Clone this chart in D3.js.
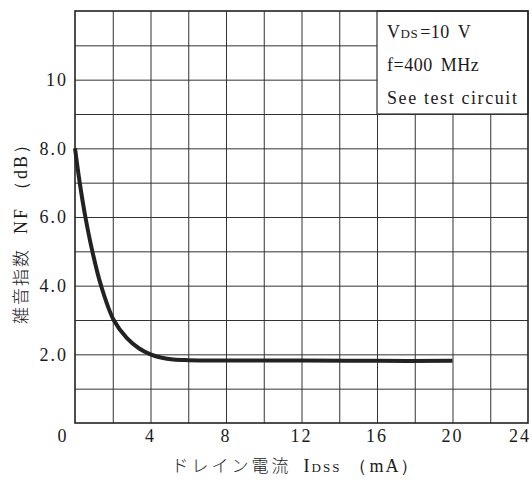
<!DOCTYPE html>
<html>
<head>
<meta charset="utf-8">
<script src="https://cdn.jsdelivr.net/npm/d3@7"></script>
<style>
  body { margin: 0; background: #fff; }
  text { fill: #1a1a1a; }
  .num { font-family: "Liberation Serif", "DejaVu Serif", serif; font-size: 18px; letter-spacing: 2px; }
  .jp { font-family: "Noto Sans CJK JP", sans-serif; font-size: 17px; font-weight: 300; }
</style>
</head>
<body>
<svg id="chart" width="532" height="480"></svg>
<script>
// curve: drain current (mA) vs noise figure (dB)
var idss = [0, 0.25, 0.55, 0.92, 1.38, 2.05, 2.75, 3.4, 4.0, 4.6, 5.2, 6.0, 8, 12, 16, 20];
var nf = [8.0, 7.0, 6.0, 5.0, 4.0, 3.0, 2.47, 2.17, 2.0, 1.9, 1.85, 1.83, 1.82, 1.82, 1.81, 1.81];

var xTicks = [0, 4, 8, 12, 16, 20, 24];
var yTicks = [2, 4, 6, 8, 10];
var yTickLabels = ['2.0', '4.0', '6.0', '8.0', '10'];
var legendLines = ['V', 'f=400 MHz', 'See test circuit'];

var margin = {top: 11, right: 4, bottom: 57, left: 75},
  w = 532 - margin.left - margin.right,
  h = 480 - margin.top - margin.bottom;

var svg = d3.select('#chart');
var g = svg.append('g').attr('transform', 'translate(' + margin.left + ',' + margin.top + ')');

var x = d3.scaleLinear().domain([0, 24]).range([0, w]);
var y = d3.scaleLinear().domain([0, 12]).range([h, 0]);

// grid, every 2 mA and every 1 dB
g.append('g')
  .call(d3.axisBottom(x).tickValues(d3.range(2, 24, 2)).tickSize(-h).tickFormat(''))
  .attr('transform', 'translate(0,' + h + ')')
  .call(function (s) { s.select('.domain').remove(); s.selectAll('line').attr('stroke', '#333').attr('stroke-width', 1); });
g.append('g')
  .call(d3.axisLeft(y).tickValues(d3.range(1, 12, 1)).tickSize(-w).tickFormat(''))
  .call(function (s) { s.select('.domain').remove(); s.selectAll('line').attr('stroke', '#333').attr('stroke-width', 1); });

// legend box covers the grid in the top right
var lx0 = x(16), ly0 = y(12), lx1 = x(24), ly1 = y(9);
g.append('rect').attr('x', lx0).attr('y', ly0).attr('width', lx1 - lx0).attr('height', ly1 - ly0)
  .attr('fill', '#fff').attr('stroke', '#333').attr('stroke-width', 1.2);

// frame
g.append('rect').attr('width', w).attr('height', h)
  .attr('fill', 'none').attr('stroke', '#222').attr('stroke-width', 1.6);

// curve
var line = d3.line().x(function (d, i) { return x(idss[i]); }).y(function (d) { return y(d); })
  .curve(d3.curveCatmullRom.alpha(0.5));
g.append('path').datum(nf).attr('d', line)
  .attr('fill', 'none').attr('stroke', '#222').attr('stroke-width', 4).attr('stroke-linecap', 'butt');

// tick labels
g.selectAll('text.xt').data(xTicks).enter().append('text')
  .attr('class', 'num xt')
  .attr('x', function (d) { return x(d); })
  .attr('dx', function (d) { return d === 0 ? -12 : (d === 24 ? -8 : 0); })
  .attr('y', h + 19)
  .attr('text-anchor', 'middle')
  .text(function (d) { return d; });

g.selectAll('text.yt').data(yTicks).enter().append('text')
  .attr('class', 'num yt')
  .attr('x', -7)
  .attr('y', function (d) { return y(d); })
  .attr('dy', '0.35em')
  .attr('text-anchor', 'end')
  .text(function (d, i) { return yTickLabels[i]; });

// legend text
var lg = g.append('g').attr('transform', 'translate(' + (lx0 + 10) + ',' + ly0 + ')');
var t0 = lg.append('text').attr('class', 'num').attr('y', 27).style('letter-spacing', '0.5px');
t0.append('tspan').text(legendLines[0]);
t0.append('tspan').text('DS').style('font-size', '13px');
t0.append('tspan').attr('dx', 2).text('=10');
t0.append('tspan').attr('dx', 8).text('V');
var t1 = lg.append('text').attr('class', 'num').attr('y', 60).style('letter-spacing', '0.5px');
t1.append('tspan').text('f=400');
t1.append('tspan').attr('dx', 8).text('MHz');
lg.append('text').attr('class', 'num').attr('y', 93).style('letter-spacing', '1.6px').text(legendLines[2]);

// axis titles
var xt = svg.append('text').attr('x', 296).attr('y', 472).attr('text-anchor', 'middle');
xt.append('tspan').attr('class', 'jp').style('letter-spacing', '3px').text('ドレイン電流');
xt.append('tspan').attr('class', 'num').attr('dx', 12).text('I');
xt.append('tspan').attr('class', 'num').style('font-size', '13px').text('DSS');
xt.append('tspan').attr('class', 'num').attr('dx', 8).text('（mA）');

var yt = svg.append('text').attr('transform', 'translate(27,229) rotate(-90)').attr('text-anchor', 'middle');
yt.append('tspan').attr('class', 'jp').style('letter-spacing', '2px').text('雑音指数');
yt.append('tspan').attr('class', 'num').attr('dx', 14).text('NF');
yt.append('tspan').attr('class', 'num').attr('dx', 8).text('（dB）');
</script>
</body>
</html>
